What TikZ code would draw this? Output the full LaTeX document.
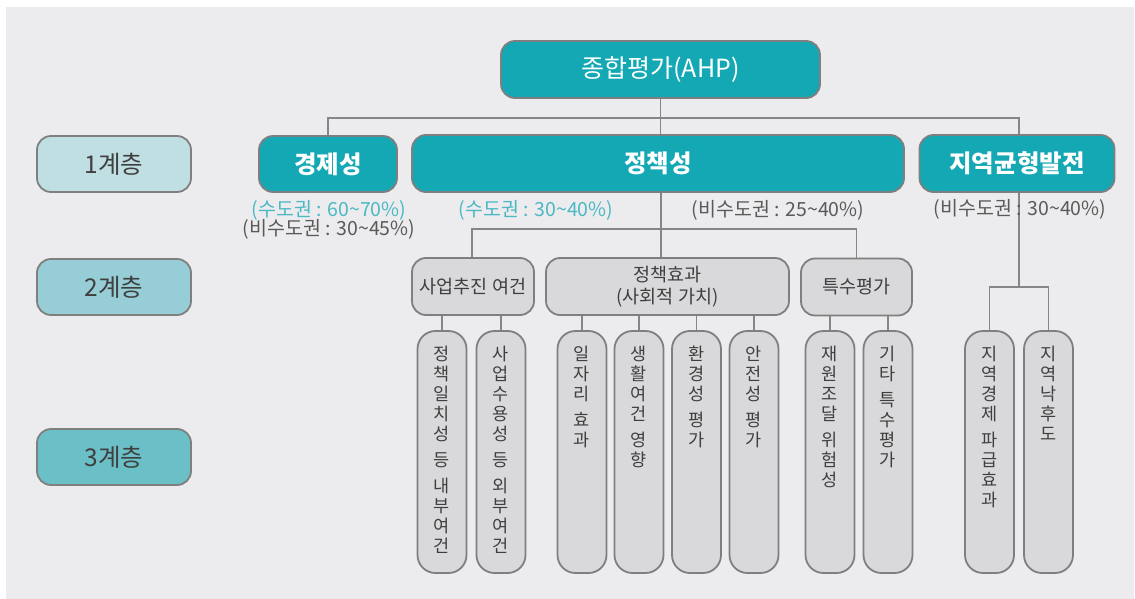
\documentclass[tikz,border=0pt]{standalone}
\usepackage{fontspec}
\setmainfont{Noto Sans CJK KR}
\definecolor{panel}{HTML}{ECECEE}
\definecolor{tealc}{HTML}{13A8B4}
\definecolor{bordergray}{HTML}{7F7F7F}
\definecolor{linegray}{HTML}{868686}
\definecolor{lvlA}{HTML}{C0DFE3}
\definecolor{lvlB}{HTML}{96CDD6}
\definecolor{lvlC}{HTML}{6BBFC7}
\definecolor{boxgray}{HTML}{D9D9DB}
\definecolor{darktext}{HTML}{3F3F3F}
\definecolor{tealtext}{HTML}{4BB8C4}
\definecolor{graytext}{HTML}{5A5A5A}
\begin{document}
\begin{tikzpicture}[x=1pt,y=-1pt,
  box/.style={draw=bordergray, line width=1.8pt, rounded corners=14pt, inner sep=0pt, align=center},
  topbox/.style={box, fill=tealc, text=white},
  lvlbox/.style={box, text=darktext, minimum width=154pt, minimum height=56pt, font=\fontsize{24.5}{28}\selectfont},
  midbox/.style={box, fill=boxgray, text=darktext, minimum height=57pt, font=\fontsize{18.5}{21.5}\selectfont},
  tallbox/.style={box, fill=boxgray, minimum width=49pt, minimum height=242pt, rounded corners=18pt},
  vtext/.style={anchor=north, inner sep=0pt, align=center, text=darktext, font=\fontsize{17.5}{20}\selectfont},
  conn/.style={draw=linegray, line width=1.8pt},
  pct/.style={inner sep=0pt, font=\fontsize{19.5}{20}\selectfont}]
\useasboundingbox (0,0) rectangle (1135,599);
\fill[white] (0,0) rectangle (1135,599);
\fill[panel] (6,7) rectangle (1134,599);

% level labels
\node[lvlbox, fill=lvlA] (L1) at (114,164) {1계층};
\node[lvlbox, fill=lvlB] (L2) at (114,287) {2계층};
\node[lvlbox, fill=lvlC] (L3) at (114,457) {3계층};

% top
\node[topbox, minimum width=319pt, minimum height=57pt, font=\fontsize{25}{28}\selectfont] (ahp) at (660.5,69.5) {종합평가(AHP)};

% level 1
\node[topbox, minimum width=138pt, minimum height=56pt, font=\bfseries\fontsize{24.5}{28}\selectfont] (kj) at (328,164) {경제성};
\node[topbox, minimum width=492pt, minimum height=57pt, font=\bfseries\fontsize{24.5}{28}\selectfont] (jc) at (658,163.5) {정책성};
\node[topbox, minimum width=195pt, minimum height=57pt, font=\bfseries\fontsize{24.5}{28}\selectfont] (jg) at (1017,163.5) {지역균형발전};

% level 2
\node[midbox, minimum width=122pt] (s1) at (473,286.5) {사업추진 여건};
\node[midbox, minimum width=243pt] (s2) at (667.5,286.5) {정책효과\\(사회적 가치)};
\node[midbox, minimum width=111pt] (s3) at (856.5,287) {특수평가};

% level 3 boxes
\node[tallbox] (t1) at (442,452) {};
\node[tallbox] (t2) at (501,452) {};
\node[tallbox] (t3) at (582,452) {};
\node[tallbox] (t4) at (639,452) {};
\node[tallbox] (t5) at (696.5,452) {};
\node[tallbox] (t6) at (754,452) {};
\node[tallbox] (t7) at (830,452) {};
\node[tallbox] (t8) at (888,452) {};
\node[tallbox] (t9) at (989.5,452) {};
\node[tallbox] (t10) at (1048.5,452) {};

% level 3 texts
\node[vtext] (v1) at (442,346) {정\\책\\일\\치\\성\\[6pt]등\\[6pt]내\\부\\여\\건};
\node[vtext] (v2) at (501,346) {사\\업\\수\\용\\성\\[6pt]등\\[6pt]외\\부\\여\\건};
\node[vtext] (v3) at (582,346) {일\\자\\리\\[6pt]효\\과};
\node[vtext] (v4) at (639,346) {생\\활\\여\\건\\[6pt]영\\향};
\node[vtext] (v5) at (696.5,346) {환\\경\\성\\[6pt]평\\가};
\node[vtext] (v6) at (754,346) {안\\전\\성\\[6pt]평\\가};
\node[vtext] (v7) at (830,346) {재\\원\\조\\달\\[6pt]위\\험\\성};
\node[vtext] (v8) at (888,346) {기\\타\\[6pt]특\\수\\평\\가};
\node[vtext] (v9) at (989.5,346) {지\\역\\경\\제\\[6pt]파\\급\\효\\과};
\node[vtext] (v10) at (1048.5,346) {지\\역\\낙\\후\\도};

% connectors level 0 -> 1
\coordinate (b0r) at (1019,118);
\draw[conn] (ahp.south) -- (ahp.south |- jc.north);
\draw[conn] (kj.north) |- (b0r) -- (b0r |- jg.north);

% connectors level 1 -> 2
\coordinate (b1) at (661,229);
\draw[conn] (jc.south -| b1) -- (b1);
\draw[conn] (s1.north -| 472,0) |- (b1) -| (s3.north);
\draw[conn] (b1) -- (b1 |- s2.north);

% connectors level 2 -> 3
\foreach \t/\s in {t1/s1,t2/s1,t3/s2,t4/s2,t5/s2,t6/s2,t7/s3,t8/s3}{
  \draw[conn] (\t.north |- \s.south) -- (\t.north);
}
\coordinate (b2) at (1019,287);
\draw[conn] (jg.south -| b2) -- (b2);
\draw[conn] (t9.north) |- (b2) -| (t10.north);

% percentage labels
\node[pct, text=tealtext] (p1) at (329,210) {(수도권 : 60\textasciitilde 70\%)};
\node[pct, text=graytext] (p2) at (329,229) {(비수도권 : 30\textasciitilde 45\%)};
\node[pct, text=tealtext] (p3) at (536,210) {(수도권 : 30\textasciitilde 40\%)};
\node[pct, text=graytext] (p4) at (778,210) {(비수도권 : 25\textasciitilde 40\%)};
\node[pct, text=graytext] (p5) at (1020,209) {(비수도권 : 30\textasciitilde 40\%)};
\end{tikzpicture}
\end{document}
